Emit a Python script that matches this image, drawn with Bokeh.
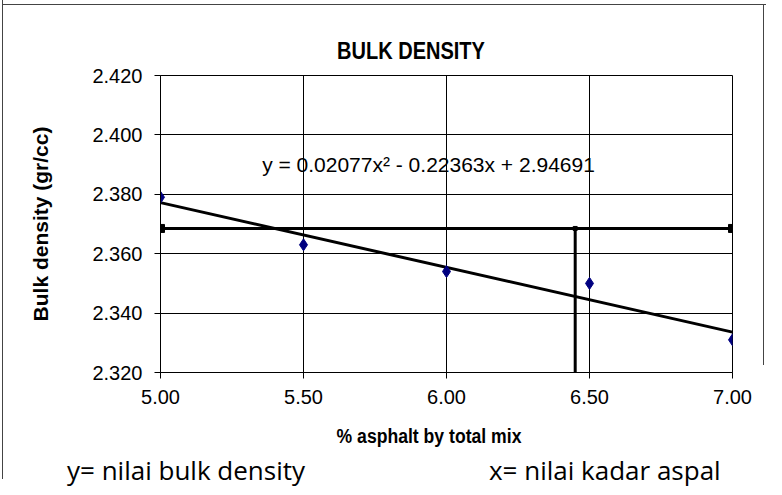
import numpy as np
from bokeh.plotting import figure
from bokeh.models import Label, Range1d, FixedTicker, NumeralTickFormatter, Div
from bokeh.layouts import column, row
from bokeh.embed import file_html
from bokeh.resources import INLINE

# ---- data ----
asphalt_pct = [5.0, 5.5, 6.0, 6.5, 7.0]
bulk_density = [2.379, 2.363, 2.354, 2.350, 2.331]
x_ticks = [5.0, 5.5, 6.0, 6.5, 7.0]
y_ticks = [2.32, 2.34, 2.36, 2.38, 2.40, 2.42]
ref_line_x = [5.0, 7.0]
ref_line_y = [2.3685, 2.3685]
optimum_x = [6.45, 6.45]
optimum_y = [2.32, 2.3685]
title_text = "BULK DENSITY"
equation_text = "y = 0.02077x\u00b2 - 0.22363x + 2.94691"
x_title = "% asphalt by total mix"
y_title = "Bulk density (gr/cc)"
note_y = "y= nilai bulk density"
note_x = "x= nilai kadar aspal"

# linear trend line fitted to the points
coef = np.polyfit(asphalt_pct, bulk_density, 1)
trend_x = [min(asphalt_pct), max(asphalt_pct)]
trend_y = list(np.polyval(coef, trend_x))

FONT = "Liberation Sans"
BORDER = "1.5px solid #444"

p = figure(width=763, height=350,
           x_range=Range1d(5.0, 7.0), y_range=Range1d(2.32, 2.42),
           output_backend="svg", toolbar_location=None,
           min_border_left=157, min_border_right=34,
           min_border_top=12, min_border_bottom=41)
p.title.visible = False

p.outline_line_color = "black"
p.outline_line_width = 1
p.background_fill_color = "white"
p.border_fill_color = None

for g in (p.xgrid, p.ygrid):
    g.grid_line_color = "black"
    g.grid_line_width = 1
p.xgrid.ticker = FixedTicker(ticks=x_ticks)
p.ygrid.ticker = FixedTicker(ticks=y_ticks)

p.xaxis.ticker = FixedTicker(ticks=x_ticks)
p.yaxis.ticker = FixedTicker(ticks=y_ticks)
p.xaxis.formatter = NumeralTickFormatter(format="0.00")
p.yaxis.formatter = NumeralTickFormatter(format="0.000")
for ax in (p.xaxis, p.yaxis):
    ax.axis_line_color = "black"
    ax.major_tick_line_color = "black"
    ax.major_tick_out = 6
    ax.major_tick_in = 0
    ax.minor_tick_line_color = None
    ax.major_label_text_font = FONT
    ax.major_label_text_font_size = "20px"
    ax.major_label_text_color = "black"
    ax.axis_label_text_font = FONT
    ax.axis_label_text_font_style = "bold"
    ax.axis_label_text_color = "black"
p.xaxis.major_label_standoff = 11
p.yaxis.major_label_standoff = 12
p.yaxis.axis_label = y_title
p.yaxis.axis_label_text_font_size = "21px"
p.yaxis.axis_label_standoff = 37

# trend line
p.line(trend_x, trend_y, line_color="black", line_width=3)
# reference horizontal line with end squares
p.line(ref_line_x, ref_line_y, line_color="black", line_width=3)
p.scatter(ref_line_x, ref_line_y, marker="square", size=8, color="black")
# vertical line at optimum asphalt content
p.line(optimum_x, optimum_y, line_color="black", line_width=3)
p.scatter([optimum_x[1]], [optimum_y[1]], marker="square", size=4, color="black")
# data points
p.scatter(asphalt_pct, bulk_density, marker="diamond", size=12, color="#000080")

p.add_layout(Label(x=268, y=208, x_units="screen", y_units="screen", text=equation_text,
                   text_font=FONT, text_font_size="21px",
                   text_align="center", text_baseline="middle", text_color="black"))

header = Div(text=(
    '<div style="position:relative;width:763px;height:58px;">'
    '<div style="position:absolute;left:208px;top:33px;width:400px;text-align:center;'
    f'font-family:\'{FONT}\';font-weight:bold;font-size:23px;line-height:26px;color:black;'
    f'white-space:nowrap;transform:scaleX(0.87);">{title_text}</div>'
    '<div style="position:absolute;left:760px;top:0px;width:0px;height:360px;'
    f'border-left:{BORDER};"></div>'
    '</div>'),
    width=763, height=58, margin=0)
header.styles = {"overflow": "visible"}

notes = Div(text=(
    '<div style="position:relative;width:760px;height:66px;color:black;white-space:nowrap;">'
    '<div style="position:absolute;left:226px;top:11px;width:400px;text-align:center;'
    f'font-family:\'{FONT}\';font-weight:bold;font-size:20px;line-height:24px;'
    f'transform:scaleX(0.88);">{x_title}</div>'
    '<span style="position:absolute;left:64px;top:47px;font-family:\'Open Sans\';'
    f'font-size:26px;line-height:20px;">{note_y}</span>'
    '<span style="position:absolute;left:486px;top:47px;font-family:\'Open Sans\';'
    f'font-size:26px;line-height:20px;">{note_x}</span>'
    '</div>'),
    width=763, height=66, margin=0)
notes.styles = {"overflow": "visible"}

top_rule = Div(text="", width=763, height=5, margin=0,
               styles={"border-bottom": BORDER, "box-sizing": "border-box"})
left_rule = Div(text="", width=3, height=479, margin=0,
                styles={"border-right": BORDER, "box-sizing": "border-box"})

layout = row(left_rule, column(top_rule, header, p, notes, spacing=0), spacing=0)
open("out.html", "w").write(file_html(layout, INLINE))
